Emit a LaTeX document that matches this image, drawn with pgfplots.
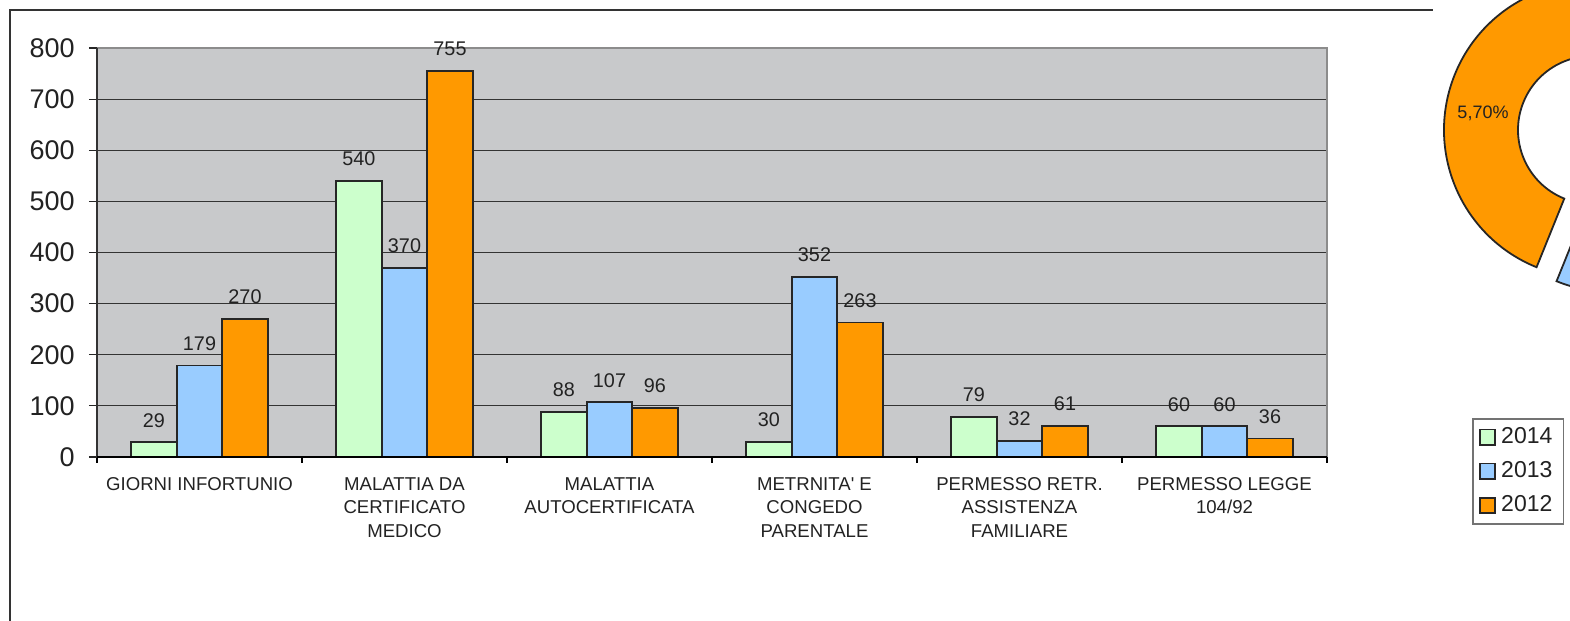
\documentclass[border=0pt]{standalone}
\usepackage{pgfplots}
\pgfplotsset{compat=1.18}
\usepackage{fontspec}
\setmainfont{Liberation Sans}

\definecolor{c2014}{RGB}{204,255,204}
\definecolor{c2013}{RGB}{153,204,255}
\definecolor{c2012}{RGB}{255,153,0}
\definecolor{plotbg}{RGB}{200,201,203}
\definecolor{txt}{RGB}{34,34,34}

\begin{document}
\begin{tikzpicture}
% page = 1570x621 px at 0.5pt per px
\path[use as bounding box] (0,0) rectangle (785pt,310.5pt);

% outer chart frame (only top and left edges visible)
\draw[black!80, line width=0.7pt] (5pt,0pt) -- (5pt,305.5pt) -- (716.5pt,305.5pt);

\begin{axis}[
    at={(48.5pt,82pt)}, anchor=south west,
    scale only axis, width=615pt, height=204.5pt,
    xmin=-0.5, xmax=5.5, ymin=0, ymax=800,
    clip=false,
    ybar=0pt, bar width=22.75pt,
    axis background/.style={fill=plotbg},
    axis line style={draw=none},
    /pgf/number format/assume math mode=true,
    tick align=outside,
    xtick pos=bottom, ytick pos=left,
    xtick={0,...,5},
    xticklabels={{GIORNI INFORTUNIO},
                 {MALATTIA DA\\CERTIFICATO\\MEDICO},
                 {MALATTIA\\AUTOCERTIFICATA},
                 {METRNITA\textquotesingle{} E\\CONGEDO\\PARENTALE},
                 {PERMESSO RETR.\\ASSISTENZA\\FAMILIARE},
                 {PERMESSO LEGGE\\104/92}},
    major x tick style={draw=none},
    minor xtick={-0.5,0.5,...,5.5},
    minor x tick style={black, line width=0.6pt},
    minor tick length=3pt,
    xticklabel style={align=center, anchor=north, inner sep=0pt, yshift=-6pt,
        text=txt, font=\fontsize{9.3}{11.75}\selectfont},
    ytick={0,100,...,800},
    major y tick style={black!85, line width=0.6pt},
    major tick length=4pt,
    yticklabel style={anchor=east, inner sep=0pt, xshift=-7pt,
        text=txt, font=\fontsize{13.5}{16}\selectfont},
    extra y ticks={100,200,...,700},
    extra y tick labels={},
    extra y tick style={grid=major, major tick length=0pt},
    grid style={draw=black!80, line width=0.5pt},
    nodes near coords,
    every node near coord/.append style={anchor=south, inner sep=0pt, yshift=7pt,
        text=txt, font=\fontsize{9.9}{12}\selectfont},
    legend style={at={(1.1179,0.0954)}, anchor=north west,
        draw=black!55, line width=0.8pt,
        font=\fontsize{11.5}{13}\selectfont, text=txt,
        inner xsep=3pt, inner ysep=3.5pt, row sep=5.5pt,
        nodes={inner xsep=2.5pt, inner ysep=1pt}},
    legend cell align=left,
    legend image code/.code={\draw[#1, line width=0.9pt] (0pt,-3.9pt) rectangle (7.8pt,3.9pt);},
]
\addplot[fill=c2014, draw=black!85, line width=0.9pt] coordinates
    {(0,29) (1,540) (2,88) (3,30) (4,79) (5,60)};
\addplot[fill=c2013, draw=black!85, line width=0.9pt] coordinates
    {(0,179) (1,370) (2,107) (3,352) (4,32) (5,60)};
\addplot[fill=c2012, draw=black!85, line width=0.9pt] coordinates
    {(0,270) (1,755) (2,96) (3,263) (4,61) (5,36)};
\legend{2014,2013,2012}
\draw[black!45, line width=1pt] (rel axis cs:0,1) -- (rel axis cs:1,1) -- (rel axis cs:1,0);
\draw[black!80, line width=0.6pt] (rel axis cs:0,0) -- (rel axis cs:0,1);
\draw[black, line width=0.7pt] (rel axis cs:0,0) -- (rel axis cs:1,0);
\end{axis}

% partly visible doughnut chart at the right edge
\begin{scope}
\clip (0,0) rectangle (785pt,310.5pt);
\draw[fill=c2012, draw=black!85, line width=0.9pt]
    ([shift={(70:74pt)}]796pt,245.5pt) arc[start angle=70, end angle=248, radius=74pt]
    -- ([shift={(248:37pt)}]796pt,245.5pt) arc[start angle=248, end angle=70, radius=37pt] -- cycle;
\begin{scope}[shift={(10pt,-7pt)}]
\draw[fill=c2013, draw=black!85, line width=0.9pt]
    ([shift={(248:74pt)}]796pt,245.5pt) arc[start angle=248, end angle=330, radius=74pt]
    -- ([shift={(330:37pt)}]796pt,245.5pt) arc[start angle=330, end angle=248, radius=37pt] -- cycle;
\end{scope}
\node[text=txt, font=\fontsize{9}{11}\selectfont, inner sep=0pt] at (741.5pt,254pt) {5,70\%};
\end{scope}
\end{tikzpicture}
\end{document}
